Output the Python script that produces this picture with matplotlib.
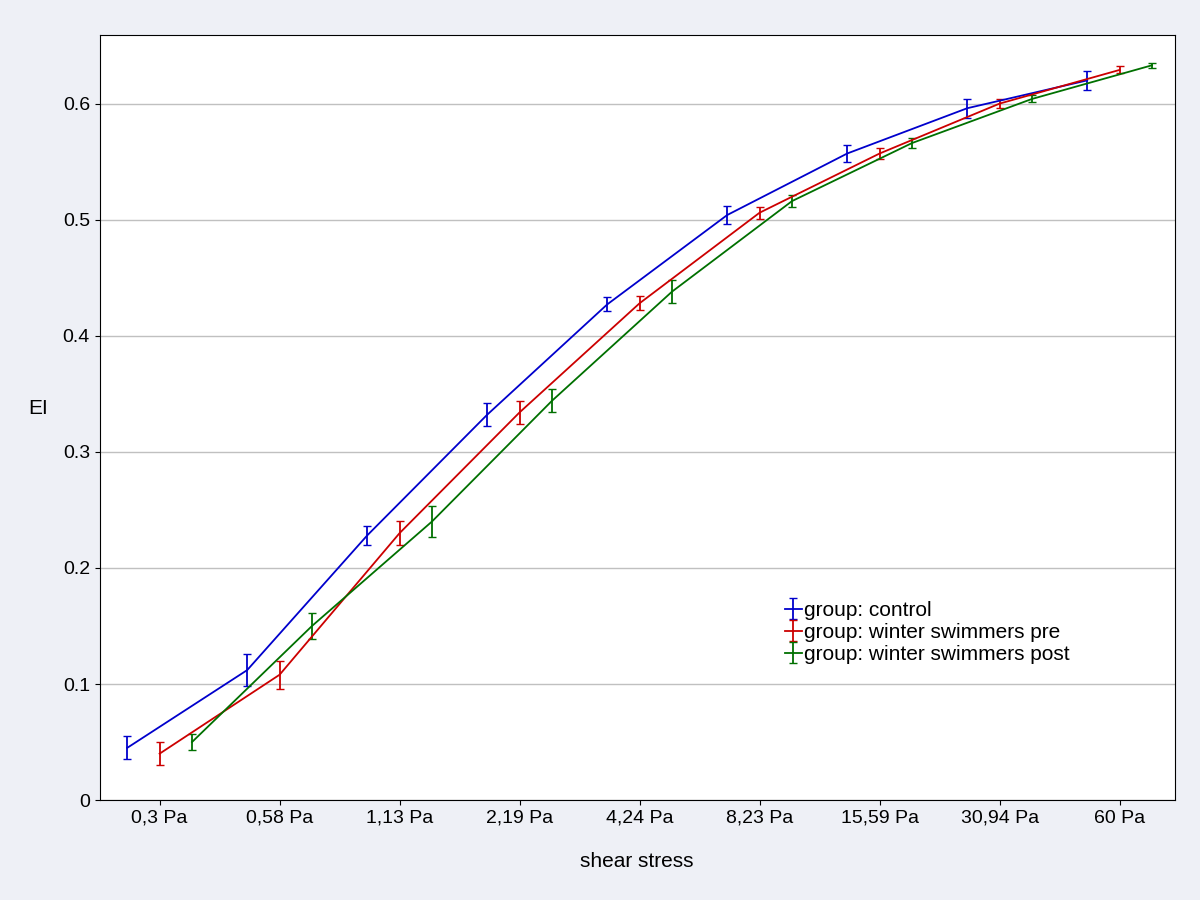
import matplotlib.pyplot as plt
import numpy as np

plt.rcParams['font.family'] = ['Liberation Sans', 'DejaVu Sans']

categories = ["0,3 Pa", "0,58 Pa", "1,13 Pa", "2,19 Pa", "4,24 Pa", "8,23 Pa", "15,59 Pa", "30,94 Pa", "60 Pa"]
control = [0.045, 0.112, 0.228, 0.332, 0.427, 0.504, 0.557, 0.596, 0.620]
control_err = [0.010, 0.014, 0.008, 0.010, 0.006, 0.008, 0.007, 0.008, 0.008]
pre = [0.040, 0.108, 0.230, 0.334, 0.428, 0.506, 0.557, 0.600, 0.629]
pre_err = [0.010, 0.012, 0.010, 0.010, 0.006, 0.005, 0.005, 0.004, 0.003]
post = [0.050, 0.150, 0.240, 0.344, 0.438, 0.516, 0.566, 0.604, 0.633]
post_err = [0.007, 0.011, 0.013, 0.010, 0.010, 0.005, 0.004, 0.003, 0.002]

fig = plt.figure(figsize=(12, 9), dpi=100, facecolor='#eef0f6')
ax = fig.add_axes([0.083, 0.111, 0.896, 0.850])
ax.set_facecolor('white')

x = np.arange(len(categories))
off = 0.27
series = [(control, control_err, -off, '#0000cc', 'group: control'),
          (pre, pre_err, 0.0, '#cc0000', 'group: winter swimmers pre'),
          (post, post_err, off, '#007000', 'group: winter swimmers post')]
for vals, err, dx, col, lab in series:
    ax.errorbar(x + dx, vals, yerr=err, color=col, lw=1.3, capsize=3, elinewidth=1.3, label=lab)

ax.set_xlim(-0.5, 8.46)
ax.set_ylim(0, 0.659)
ax.set_xticks(x)
ax.set_xticklabels(categories)
ax.set_yticks(np.arange(0, 0.61, 0.1))
ax.set_yticklabels(["0", "0.1", "0.2", "0.3", "0.4", "0.5", "0.6"])
ax.yaxis.grid(True, color='#c0c0c0', lw=1)
ax.set_axisbelow(True)
ax.tick_params(labelsize=14, direction='out')
ax.set_xlabel("shear stress", fontsize=15, labelpad=18)
ax.set_ylabel("EI", fontsize=15, rotation=0, labelpad=18)
ax.legend(loc='upper left', bbox_to_anchor=(0.62, 0.285), frameon=False, fontsize=15,
          handlelength=0.8, handletextpad=0.1, labelspacing=0.15)

fig.savefig("out.png")
